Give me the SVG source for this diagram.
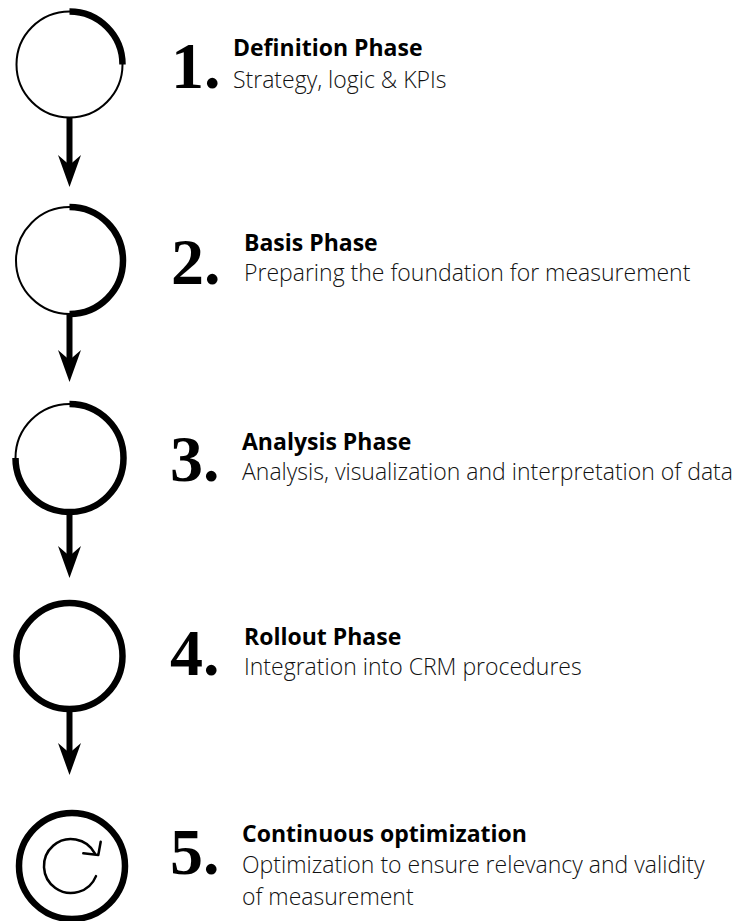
<svg xmlns="http://www.w3.org/2000/svg" width="749" height="921" viewBox="0 0 749 921">
<style>
.thin{fill:none;stroke:#000;stroke-width:2}
.thick{fill:none;stroke:#000;stroke-width:6.5}
.num{font-family:"Liberation Serif","Times New Roman",serif;font-weight:bold;font-size:66px;fill:#000}
.h{font-family:"Open Sans","Liberation Sans",sans-serif;font-weight:bold;font-size:23px;fill:#000}
.s{font-family:"Open Sans","Liberation Sans",sans-serif;font-weight:300;font-size:23px;fill:#111}
.shaft{stroke:#000;stroke-width:6;fill:none}
.head{fill:#000}
.icon{fill:none;stroke:#000;stroke-width:2.5;stroke-linecap:round;stroke-linejoin:round}
</style>
<rect width="749" height="921" fill="#fff"/>
<g id="connectors">
  <line class="shaft" x1="69.5" y1="118" x2="69.5" y2="170"/>
  <polygon class="head" points="58,155 69.5,165 81,155 69.5,187"/>
  <line class="shaft" x1="69.5" y1="314" x2="69.5" y2="365"/>
  <polygon class="head" points="58,350 69.5,360 81,350 69.5,382"/>
  <line class="shaft" x1="69.5" y1="512" x2="69.5" y2="561"/>
  <polygon class="head" points="58,546 69.5,556 81,546 69.5,578"/>
  <line class="shaft" x1="69.5" y1="709" x2="69.5" y2="758"/>
  <polygon class="head" points="58,743 69.5,753 81,743 69.5,775"/>
</g>
<g id="node1">
  <circle class="thin" cx="69.5" cy="64.5" r="53"/>
  <path class="thick" d="M69.5 11.5 A53 53 0 0 1 122.5 64.5"/>
  <text class="num" x="171" y="88">1.</text>
  <text class="h" x="233" y="56">Definition Phase</text>
  <text class="s" x="233" y="88">Strategy, logic &amp; KPIs</text>
</g>
<g id="node2">
  <circle class="thin" cx="69.5" cy="260.5" r="53.5"/>
  <path class="thick" d="M69.5 207 A53.5 53.5 0 0 1 69.5 314"/>
  <text class="num" x="171" y="284">2.</text>
  <text class="h" x="244" y="251">Basis Phase</text>
  <text class="s" x="244" y="281">Preparing the foundation for measurement</text>
</g>
<g id="node3">
  <circle class="thin" cx="69.5" cy="458" r="54"/>
  <path class="thick" d="M69.5 404 A54 54 0 1 1 15.5 458"/>
  <text class="num" x="170" y="481">3.</text>
  <text class="h" x="242" y="450">Analysis Phase</text>
  <text class="s" x="242" y="480">Analysis, visualization and interpretation of data</text>
</g>
<g id="node4">
  <circle class="thick" cx="69.5" cy="656" r="53"/>
  <text class="num" x="170" y="675">4.</text>
  <text class="h" x="244" y="645">Rollout Phase</text>
  <text class="s" x="244" y="675">Integration into CRM procedures</text>
</g>
<g id="node5">
  <circle class="thick" cx="72" cy="866" r="53"/>
  <path class="icon" d="M96 876.1 A27 27 0 1 1 94.8 853.3"/>
  <path class="icon" d="M83.3 853.3 L98.3 855 L100.7 841.7"/>
  <text class="num" x="170" y="874">5.</text>
  <text class="h" x="242" y="842">Continuous optimization</text>
  <text class="s" x="242" y="873">Optimization to ensure relevancy and validity</text>
  <text class="s" x="242" y="905">of measurement</text>
</g>
</svg>
